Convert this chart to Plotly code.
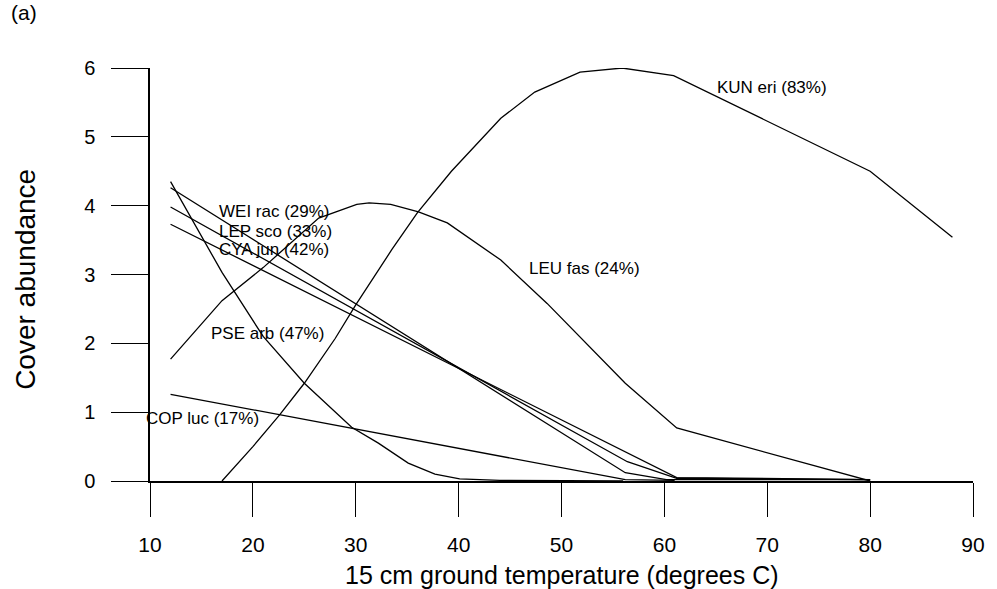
import plotly.graph_objects as go

# ---- data ----
kun_x = [17, 20, 22.6, 25, 28, 30, 33.5, 36, 39.3, 41.2, 44.1, 47.4, 51.8, 55.9, 60.9, 80, 88]
kun_y = [0, 0.5, 0.96, 1.42, 2.07, 2.56, 3.36, 3.9, 4.5, 4.81, 5.27, 5.65, 5.94, 6.0, 5.89, 4.5, 3.54]

leu_x = [12, 17, 21, 26.4, 30.1, 31.3, 33.4, 36.1, 38.9, 42.6, 44.1, 48.6, 56.2, 61.2, 80]
leu_y = [1.77, 2.62, 3.1, 3.82, 4.02, 4.04, 4.02, 3.91, 3.75, 3.37, 3.21, 2.58, 1.42, 0.77, 0.0]

pse_x = [12, 17, 21, 25, 29.6, 32.2, 35.1, 37.7, 40.1, 44, 56]
pse_y = [4.35, 3.03, 2.1, 1.42, 0.78, 0.55, 0.26, 0.1, 0.03, 0.01, 0.0]

wei_x = [12, 56.2, 60.2, 80]
wei_y = [4.26, 0.12, 0.02, 0.02]

lep_x = [12, 56.4, 61.2, 80]
lep_y = [3.98, 0.28, 0.04, 0.02]

cya_x = [12, 61.2, 80]
cya_y = [3.73, 0.05, 0.02]

cop_x = [12, 56.2, 61]
cop_y = [1.26, 0.02, 0.01]

series = [
    ("KUN eri (83%)", kun_x, kun_y),
    ("LEU fas (24%)", leu_x, leu_y),
    ("PSE arb (47%)", pse_x, pse_y),
    ("WEI rac (29%)", wei_x, wei_y),
    ("LEP sco (33%)", lep_x, lep_y),
    ("CYA jun (42%)", cya_x, cya_y),
    ("COP luc (17%)", cop_x, cop_y),
]

# label anchor positions (data coords, left-anchored text) and pixel nudges
label_pos = {
    "KUN eri (83%)": (64.9, 5.71, 0),
    "LEU fas (24%)": (46.6, 3.09, 0),
    "WEI rac (29%)": (16.5, 3.92, 0),
    "LEP sco (33%)": (16.5, 3.63, 0),
    "CYA jun (42%)": (16.5, 3.37, 0),
    "PSE arb (47%)": (15.7, 2.15, 0),
    "COP luc (17%)": (10.0, 0.915, -6),
}

x_ticks = [10, 20, 30, 40, 50, 60, 70, 80, 90]
y_ticks = [0, 1, 2, 3, 4, 5, 6]

FONT = "Liberation Sans, Arial, sans-serif"

fig = go.Figure()
for name, xs, ys in series:
    fig.add_trace(go.Scatter(x=xs, y=ys, mode="lines", name=name,
                             line=dict(color="black", width=1.3),
                             showlegend=False))

for name, (lx, ly, dx) in label_pos.items():
    fig.add_annotation(x=lx, y=ly, xref="x", yref="y", text=name,
                       showarrow=False, xanchor="left", yanchor="middle",
                       xshift=dx,
                       font=dict(family=FONT, size=17, color="black"))

# axis titles and panel label
fig.add_annotation(x=0.5, y=0, xref="paper", yref="paper",
                   text="15 cm ground temperature (degrees C)", showarrow=False,
                   xanchor="center", yanchor="middle", yshift=-94,
                   font=dict(family=FONT, size=25, color="black"))
fig.add_annotation(x=0, y=0.487, xref="paper", yref="paper",
                   text="Cover abundance", showarrow=False, textangle=-90,
                   xanchor="center", yanchor="middle", xshift=-124,
                   font=dict(family=FONT, size=28, color="black"))
fig.add_annotation(x=0, y=1, xref="paper", yref="paper",
                   text="(a)", showarrow=False,
                   xanchor="center", yanchor="middle", xshift=-126, yshift=56,
                   font=dict(family=FONT, size=21, color="black"))

fig.update_xaxes(range=[10, 90], tickvals=x_ticks, ticktext=[str(v) for v in x_ticks],
                 ticks="outside", ticklen=34, tickwidth=1.2, tickcolor="black",
                 showline=True, linecolor="black", linewidth=1.5,
                 showgrid=False, zeroline=False, ticklabelstandoff=10,
                 tickfont=dict(family=FONT, size=21, color="black"))
fig.update_yaxes(range=[0, 6], tickvals=y_ticks, ticktext=[str(v) for v in y_ticks],
                 ticks="outside", ticklen=37, tickwidth=1.2, tickcolor="black",
                 showline=True, linecolor="black", linewidth=1.5,
                 showgrid=False, zeroline=False, ticklabelstandoff=12,
                 tickfont=dict(family=FONT, size=20, color="black"))

fig.update_layout(width=997, height=589,
                  margin=dict(l=150, r=19, t=68, b=108),
                  plot_bgcolor="white", paper_bgcolor="white")

fig.write_html("out.html")
